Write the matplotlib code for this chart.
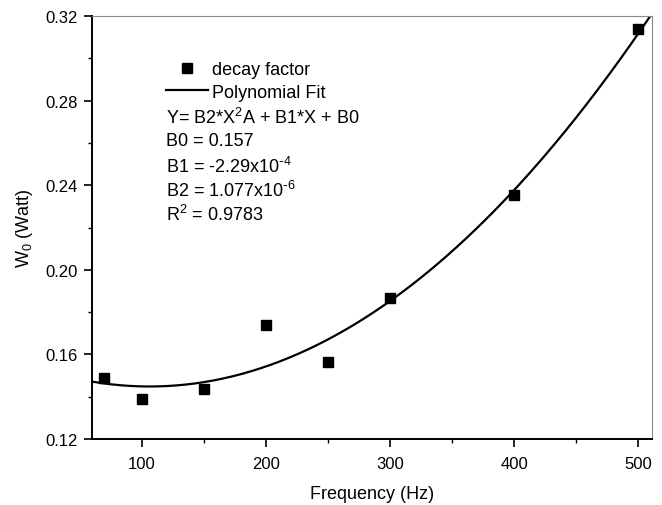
import numpy as np
import matplotlib
matplotlib.use("Agg")
import matplotlib.pyplot as plt
from matplotlib.ticker import MultipleLocator, FormatStrFormatter

plt.rcParams['font.family'] = ['Liberation Sans', 'DejaVu Sans']
plt.rcParams['mathtext.default'] = 'regular'

freq = [70, 100, 150, 200, 250, 300, 400, 500]
w0 = [0.149, 0.139, 0.1435, 0.1738, 0.1562, 0.1866, 0.2355, 0.3140]

# fit coefficients shown on the chart
b0 = 0.157
b1 = -2.29e-4
b2 = 1.077e-6

fig = plt.figure(figsize=(6.62, 5.06), dpi=100)
ax = fig.add_axes([92 / 662, 66 / 506, 560 / 662, 423 / 506])

xf = np.linspace(60, 511, 300)
ax.plot(xf, b0 + b1 * xf + b2 * xf ** 2, color='black', lw=1.6, label='Polynomial Fit')
ax.plot(freq, w0, 's', color='black', ms=7, label='decay factor', clip_on=False)

ax.set_xlim(60, 511)
ax.set_ylim(0.12, 0.32)
ax.xaxis.set_major_locator(MultipleLocator(100))
ax.xaxis.set_minor_locator(MultipleLocator(50))
ax.yaxis.set_major_locator(MultipleLocator(0.04))
ax.yaxis.set_minor_locator(MultipleLocator(0.02))
ax.yaxis.set_major_formatter(FormatStrFormatter('%.2f'))
ax.tick_params(which='major', direction='out', length=6, width=1.2, labelsize=12, pad=4)
ax.tick_params(axis='x', which='major', pad=6)
ax.tick_params(which='minor', direction='out', length=3, width=1.0)
ax.tick_params(top=False, right=False, which='both')

for s in ['left', 'bottom']:
    ax.spines[s].set_linewidth(1.4)
for s in ['top', 'right']:
    ax.spines[s].set_linewidth(0.8)
    ax.spines[s].set_color('#888888')

ax.set_xlabel('Frequency (Hz)', fontsize=13, labelpad=10)
ax.set_ylabel(r'W$_0$ (Watt)', fontsize=13, labelpad=8)

h, l = ax.get_legend_handles_labels()
ax.legend(h[::-1], l[::-1], loc='upper left', bbox_to_anchor=(74 / 560, 0.893),
          frameon=False, fontsize=13, handlelength=2.3, handletextpad=0.22,
          borderpad=0, borderaxespad=0, labelspacing=0.3)

lines = [r'Y= B2*X$^2$A + B1*X + B0',
         'B0 = 0.157',
         r'B1 = -2.29x10$^{\text{-}4}$',
         r'B2 = 1.077x10$^{\text{-}6}$',
         r'R$^2$ = 0.9783']
ys = [118, 142, 167, 191, 215]
for t, y in zip(lines, ys):
    fig.text(166 / 662, 1 - y / 506, t, fontsize=13, va='center', ha='left')

fig.savefig('out.png', dpi=100)
